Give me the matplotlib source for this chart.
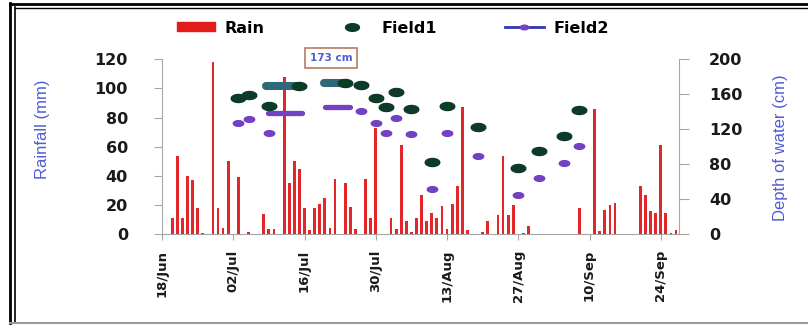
import matplotlib
matplotlib.use("Agg")
from matplotlib import pyplot as plt
from matplotlib.lines import Line2D
from matplotlib.patches import Patch
import matplotlib.dates as mdates
import numpy as np
import pandas as pd

start = pd.Timestamp("2013-06-18")

# daily rainfall, day = days after 18 Jun
rain_day = [2, 3, 4, 5, 6, 7, 8, 10, 11, 12, 13, 15, 17, 20, 21, 22, 24, 25, 26, 27,
            28, 29, 30, 31, 32, 33, 34, 36, 37, 38, 40, 41, 42, 45, 46, 47, 48, 49, 50, 51,
            52, 53, 54, 55, 56, 57, 58, 59, 60, 63, 64, 66, 67, 68, 69, 71, 72, 82, 85, 86,
            87, 88, 89, 94, 95, 96, 97, 98, 99, 100, 101]
rain_mm = [11, 54, 11, 40, 37, 18, 1, 118, 18, 4.5, 50, 39, 2, 14, 4, 3.5, 108, 35, 50, 45,
           18, 3, 18, 21, 25, 4.5, 38, 35, 19, 4, 38, 11, 73, 11, 4, 61, 9, 2, 11, 27,
           9, 15, 11, 19.5, 4, 21, 33, 87, 3, 1.5, 9, 13, 54, 13, 20, 1, 6, 18, 86, 2.5,
           17, 20, 21.5, 33, 27, 16, 15, 61, 15, 1, 3]

# depth of water (cm)
field1_day = [15, 17, 21, 27, 36, 39, 42, 44, 46, 49, 53, 56, 62, 70, 74, 79, 82]
field1_cm = [155, 159, 146, 169, 173, 170, 155, 145, 162, 143, 83, 147, 122, 76, 95, 112, 142]
field2_day = [15, 17, 21, 39, 42, 44, 46, 49, 53, 56, 62, 70, 74, 79, 82]
field2_cm = [127, 132, 116, 141, 127, 116, 133, 114, 52, 116, 90, 45, 64, 81, 101]

# periods where the depth stayed level: (from day, to day, cm)
field1_flat = [(20.4, 26.5, 169), (31.8, 35.5, 173)]
field2_flat = [(20.8, 27.5, 138), (32.0, 37.0, 145)]

tick_days = [0, 14, 28, 42, 56, 70, 84, 98]


def to_date(days):
    return start + pd.to_timedelta(np.asarray(days, dtype=float), unit="D")


rain_col = "#e3262a"
f1_col = "#0c3b27"
f1_flat_col = "#2f6877"
f2_col = "#7342c4"
f2_line = "#3434b4"
axis_grey = "#a6a6a6"
label_blue = "#4f5cd6"

t = np.linspace(0, 2 * np.pi, 48)
ellipse = np.column_stack([np.cos(t), 0.55 * np.sin(t)])

fig = plt.figure(figsize=(8.08, 3.26), dpi=100)
ax = fig.add_axes([0.2005, 0.2807, 0.640, 0.5383])
ax2 = ax.twinx()

ax.bar(to_date(rain_day), rain_mm, width=0.55, color=rain_col, zorder=3)

for d0, d1, v in field1_flat:
    ax2.plot(to_date([d0, d1]), [v, v], color=f1_flat_col, lw=5.8, solid_capstyle="round")
for d0, d1, v in field2_flat:
    ax2.plot(to_date([d0, d1]), [v, v], color=f2_col, lw=3.8, solid_capstyle="round")
ax2.plot(to_date(field1_day), field1_cm, ls="none", marker=ellipse, ms=10.5,
         color=f1_col, mec=f1_col)
ax2.plot(to_date(field2_day), field2_cm, ls="none", marker=ellipse, ms=7.5,
         color=f2_col, mec=f2_col)

ax.set_xlim(to_date([0])[0], to_date([101.6])[0])
ax.set_ylim(0, 120)
ax2.set_ylim(0, 200)
ax.set_yticks(np.arange(0, 121, 20))
ax2.set_yticks(np.arange(0, 201, 40))
ax.set_xticks(to_date(tick_days))
ax.xaxis.set_major_formatter(mdates.DateFormatter("%d/%b"))

for a in (ax, ax2):
    a.spines["top"].set_visible(False)
    for s in a.spines.values():
        s.set_color(axis_grey)
ax2.spines["left"].set_visible(False)
ax2.spines["bottom"].set_visible(False)
ax.spines["right"].set_visible(False)

ax.tick_params(axis="y", direction="out", length=6, color=axis_grey, pad=18.5,
               labelsize=11.5, labelcolor="#1a1a1a")
ax2.tick_params(axis="y", direction="out", length=7, color=axis_grey, pad=14.5,
                labelsize=11.5, labelcolor="#1a1a1a")
ax.tick_params(axis="x", direction="out", length=4, color=axis_grey, pad=7,
               labelsize=9.5, labelcolor="#1a1a1a", labelrotation=90)
for lab in ax.get_yticklabels() + ax2.get_yticklabels() + ax.get_xticklabels():
    lab.set_fontweight("bold")

fig.text(43 / 808, 1 - 129 / 326, "Rainfall (mm)", rotation=90, ha="center", va="center",
         color=label_blue, fontsize=12, family="Liberation Sans")
fig.text(780 / 808, 1 - 148 / 326, "Depth of water (cm)", rotation=90, ha="center",
         va="center", color=label_blue, fontsize=12, family="Liberation Sans")

ax.text(0.327, 1.006, "173 cm", transform=ax.transAxes, ha="center", va="center",
        fontsize=7.5, fontweight="bold", color=label_blue,
        bbox=dict(boxstyle="square,pad=0.45", fc="white", ec="#b57c62", lw=1.2))

handles = [Patch(color="#e21b1b"),
           Line2D([], [], ls="none", marker=ellipse, ms=10, color=f1_col),
           Line2D([], [], color=f2_line, lw=2, marker=ellipse, ms=6, mfc=f2_col, mec=f2_col)]
fig.legend(handles, ["Rain", "Field1", "Field2"], loc="center", bbox_to_anchor=(0.486, 0.914),
           ncol=3, frameon=False, prop=dict(weight="bold", size=11.5),
           handlelength=2.4, handleheight=0.5, handletextpad=0.6, columnspacing=4.3)

# outer frame of the pasted figure
frame = [((10, 10), (3, 323), "black", 2.0), ((15, 15), (7, 323), "black", 1.2),
         ((10, 808), (4, 4), "black", 2.0), ((15, 808), (8, 8), "black", 1.0),
         ((10, 808), (323, 323), "#9a9a9a", 1.5)]
for xs, ys, c, w in frame:
    fig.add_artist(Line2D([x / 808 for x in xs], [1 - y / 326 for y in ys],
                          color=c, lw=w, transform=fig.transFigure))

fig.savefig("out.png", dpi=100)
